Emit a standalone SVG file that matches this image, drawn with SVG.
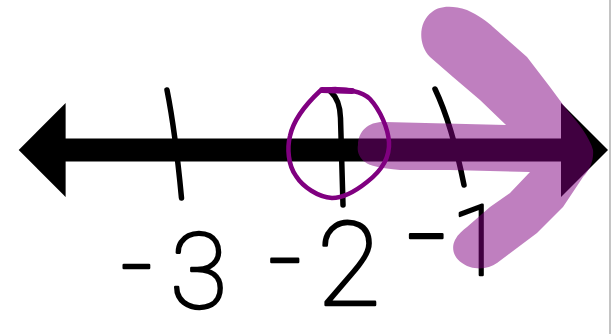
<svg xmlns="http://www.w3.org/2000/svg" width="612" height="334" viewBox="0 0 612 334">
<style>
.ink{fill:none;stroke:#000;stroke-width:5.5;stroke-linecap:round;stroke-linejoin:round}
.lbl{font-family:Roboto,"Liberation Sans",sans-serif;font-weight:100;fill:#000;stroke:#000;stroke-width:2.6;stroke-linejoin:round;stroke-linecap:round}
</style>
<rect width="612" height="334" fill="#fff"/>
<rect x="609" y="0" width="2" height="334" fill="#c4c4c4"/>
<g id="number-line">
<rect x="65" y="138.5" width="497" height="23" fill="#000"/>
<polygon points="18.7,150 65.6,103 65.6,197" fill="#000"/>
<polygon points="561,103 608,150 561,197" fill="#000"/>
</g>
<g id="ticks">
<path class="ink" d="M167,90 C172,115 177,150 181.5,198"/>
<path class="ink" d="M331,92 Q340,100 340.5,118 L343,205"/>
<path class="ink" d="M435,89 C446,112 455,140 464,185"/>
</g>
<g id="labels">
<text class="lbl" font-size="110"><tspan x="120.5" y="302">-</tspan><tspan x="170" y="308" font-size="105">3</tspan></text>
<text class="lbl" font-size="116"><tspan x="268" y="299">-</tspan><tspan x="317" y="305">2</tspan></text>
<text class="lbl" font-size="98"><tspan x="406" y="281" font-size="140">-</tspan><tspan x="451" y="275">1</tspan></text>
</g>
<g id="open-circle">
<path d="M320,91 C330,88 345,89 353,91 C362,93 366,95 370,99 C380,110 388,128 389,142 C390,158 380,172 367,182 C357,190 343,198 332,198 C318,197 303,187 296,176 C288,165 287,148 290,136 C293,122 304,106 320,91 Z" fill="none" stroke="#800080" stroke-width="4.5" stroke-linejoin="round"/>
<path d="M322,90 L352,91" stroke="#800080" stroke-width="6" stroke-linecap="round"/>
</g>
<g id="solution-arrow" opacity="0.5">
<path fill="#800080" d="M358,145 C358,130 370,121 385,122 L506,125 L480,100 L453,77 L430,57 C418,45 418,22 432,12 C437,7 450,4 467,10 C478,15 488,22 493,27 L527,57 L550,87 L567,110 C578,122 590,138 593,150 C594,160 590,170 583,177 L563,207 L537,233 L497,263 C490,268 480,270 470,267 C455,262 450,250 455,240 C458,234 463,230 467,227 L490,207 L510,193 L530,172 L450,170 L400,170 C380,168 370,166 365,162 C358,157 357,150 358,145 Z"/>
</g>
</svg>
